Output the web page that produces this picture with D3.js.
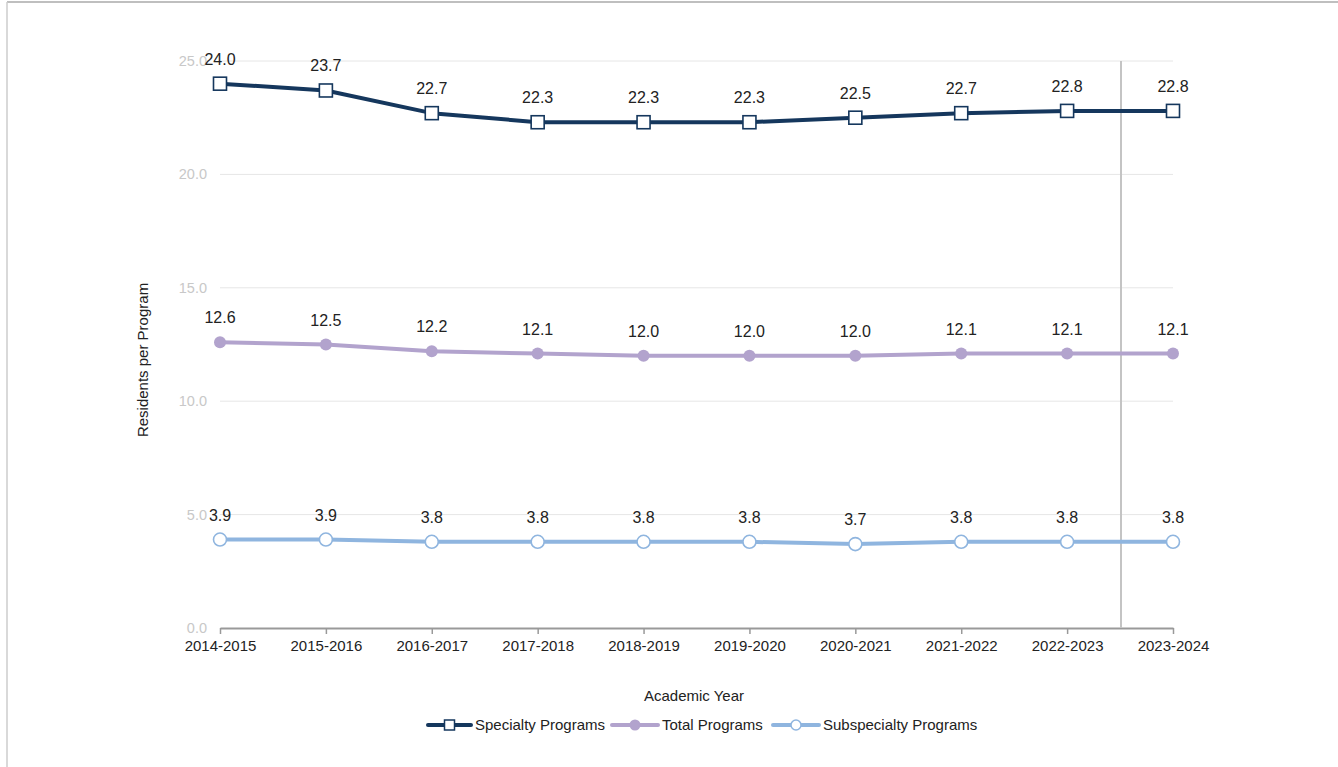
<!DOCTYPE html>
<html><head><meta charset="utf-8">
<script src="https://cdn.jsdelivr.net/npm/d3@7"></script>
<style>
html,body{margin:0;padding:0;background:#fff;}
svg{display:block;font-family:"Liberation Sans",Arial,sans-serif;}
</style></head>
<body>
<svg id="c" width="1338" height="767"></svg>
<script>
const years = ["2014-2015","2015-2016","2016-2017","2017-2018","2018-2019","2019-2020","2020-2021","2021-2022","2022-2023","2023-2024"];
const specialty = [24.0,23.7,22.7,22.3,22.3,22.3,22.5,22.7,22.8,22.8];
const total = [12.6,12.5,12.2,12.1,12.0,12.0,12.0,12.1,12.1,12.1];
const subspecialty = [3.9,3.9,3.8,3.8,3.8,3.8,3.7,3.8,3.8,3.8];
const yTicks = [0,5,10,15,20,25];
const seriesNames = ["Specialty Programs","Total Programs","Subspecialty Programs"];
const seriesColors = ["#15375d","#b2a3cd","#8fb5df"];

const series = [
  {name: seriesNames[0], values: specialty, color: seriesColors[0], marker: "square"},
  {name: seriesNames[1], values: total, color: seriesColors[1], marker: "dot"},
  {name: seriesNames[2], values: subspecialty, color: seriesColors[2], marker: "ring"}
];

const svg = d3.select("#c");
// frame
svg.append("line").attr("x1",7).attr("x2",1338).attr("y1",2).attr("y2",2).attr("stroke","#aaa").attr("stroke-width",1.5);
svg.append("line").attr("x1",7).attr("x2",7).attr("y1",2).attr("y2",767).attr("stroke","#ccc").attr("stroke-width",1.5);

const x = d3.scalePoint().domain(years).range([220,1173]);
const y = d3.scaleLinear().domain([0,25]).range([628,61]);

// gridlines
svg.append("g").selectAll("line").data(yTicks.filter(d=>d>0)).join("line")
  .attr("x1",220).attr("x2",1173).attr("y1",d=>y(d)).attr("y2",d=>y(d))
  .attr("stroke","#e6e6e6").attr("stroke-width",1);

// y tick labels
svg.append("g").selectAll("text").data(yTicks).join("text")
  .attr("x",207).attr("y",d=>y(d)).attr("dy","0.35em").attr("text-anchor","end")
  .attr("fill","#c8c8c8").attr("font-size",14.5).text(d=>d.toFixed(1));

// x axis
const xAxis = svg.append("g").attr("transform","translate(0,628)")
  .call(d3.axisBottom(x).tickSize(6).tickSizeOuter(0).tickPadding(6));
xAxis.select(".domain").attr("stroke","#999").attr("stroke-width",2);
xAxis.selectAll(".tick line").attr("stroke","#999").attr("stroke-width",1.5);
xAxis.selectAll(".tick text").attr("font-size",15).attr("fill","#222").attr("font-family","Liberation Sans, Arial, sans-serif");

// hover line
svg.append("line").attr("x1",1121).attr("x2",1121).attr("y1",61).attr("y2",628)
  .attr("stroke","#c4c4c4").attr("stroke-width",2);

// axis titles
svg.append("text").attr("transform","translate(148,360) rotate(-90)").attr("text-anchor","middle")
  .attr("font-size",15).attr("fill","#222").text("Residents per Program");
svg.append("text").attr("x",694).attr("y",701).attr("text-anchor","middle")
  .attr("font-size",15).attr("fill","#222").text("Academic Year");

const line = d3.line().x((d,i)=>x(years[i])).y(d=>y(d));

function drawMarker(g, type, color, cx, cy){
  if(type==="square"){
    g.append("rect").attr("x",cx-6.5).attr("y",cy-6.5).attr("width",13).attr("height",13)
      .attr("fill","#fff").attr("stroke",color).attr("stroke-width",1.6);
  } else if(type==="dot"){
    g.append("circle").attr("cx",cx).attr("cy",cy).attr("r",6).attr("fill",color);
  } else {
    g.append("circle").attr("cx",cx).attr("cy",cy).attr("r",6.5).attr("fill","#fff").attr("stroke",color).attr("stroke-width",1.6);
  }
}

series.forEach(s=>{
  const g = svg.append("g");
  g.append("path").datum(s.values).attr("d",line).attr("fill","none")
    .attr("stroke",s.color).attr("stroke-width",4).attr("stroke-linejoin","round");
  s.values.forEach((v,i)=>drawMarker(g,s.marker,s.color,x(years[i]),y(v)));
  g.selectAll("text.lbl").data(s.values).join("text").attr("class","lbl")
    .attr("x",(d,i)=>x(years[i])).attr("y",d=>y(d)-19).attr("text-anchor","middle")
    .attr("font-size",16).attr("fill","#222").text(d=>d.toFixed(1));
});

// legend
const legendPos = [[428,475],[612,662],[773,823]];
series.forEach((s,i)=>{
  const [lx,tx] = legendPos[i];
  const ly = 725;
  const g = svg.append("g");
  g.append("line").attr("x1",lx).attr("x2",tx-4).attr("y1",ly).attr("y2",ly)
    .attr("stroke",s.color).attr("stroke-width",4).attr("stroke-linecap","round");
  const cx = (lx+tx-4)/2;
  if(s.marker==="square"){
    g.append("rect").attr("x",cx-5).attr("y",ly-5).attr("width",10).attr("height",10).attr("fill","#fff").attr("stroke",s.color).attr("stroke-width",1.5);
  } else if(s.marker==="dot"){
    g.append("circle").attr("cx",cx).attr("cy",ly).attr("r",5.5).attr("fill",s.color);
  } else {
    g.append("circle").attr("cx",cx).attr("cy",ly).attr("r",5).attr("fill","#fff").attr("stroke",s.color).attr("stroke-width",1.5);
  }
  g.append("text").attr("x",tx).attr("y",ly).attr("dy","0.35em").attr("font-size",15).attr("fill","#222").text(s.name);
});
</script>
</body></html>
